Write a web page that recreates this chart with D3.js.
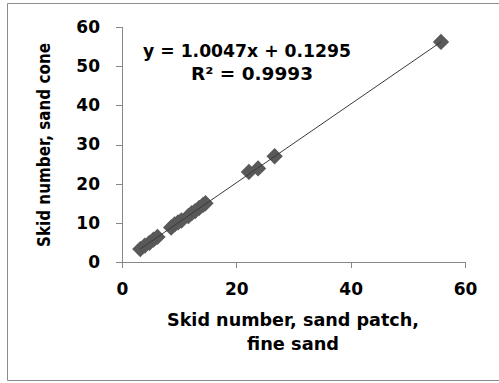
<!DOCTYPE html>
<html>
<head>
<meta charset="utf-8">
<script src="https://cdn.jsdelivr.net/npm/d3@7"></script>
<style>
  body { margin: 0; background: #fff; }
  text { font-family: "DejaVu Sans", Verdana, sans-serif; font-weight: bold; fill: #000; }
</style>
</head>
<body>
<svg id="chart"></svg>
<script>
/* data */
var sandPatch = [3.2, 4.0, 4.8, 5.5, 6.2, 8.6, 9.2, 9.8, 10.4, 11.6, 12.2, 12.8, 13.5, 14.2, 14.6, 22.2, 23.8, 26.7, 55.8];
var sandCone  = [3.3, 4.2, 4.9, 5.7, 6.4, 8.8, 9.6, 10.1, 10.6, 11.7, 12.5, 13.0, 13.8, 14.6, 15.0, 23.0, 23.9, 27.0, 56.2];
var xTicks = [0, 20, 40, 60];
var yTicks = [0, 10, 20, 30, 40, 50, 60];
var slope = 1.0047, intercept = 0.1295;
var eqLabel = "y = 1.0047x + 0.1295";
var r2Label = "R\u00b2 = 0.9993";
var xLegend = ["Skid number, sand patch,", "fine sand"];
var yLegend = "Skid number, sand cone";

var width = 499, height = 383,
    margin = { top: 27, left: 122 };

var svg = d3.select("#chart")
    .attr("width", width)
    .attr("height", height);

// outer chart border (right edge falls outside the picture)
svg.append("path")
    .attr("d", "M" + width + ",3.5H7.5V380.5H" + width)
    .attr("fill", "none")
    .attr("stroke", "#8c8c8c");

var g = svg.append("g")
    .attr("transform", "translate(" + margin.left + "," + margin.top + ")");

var xScale = d3.scaleLinear().domain([0, 60]).range([0, 343]);
var yScale = d3.scaleLinear().domain([0, 60]).range([235, 0]);

/* axes */
var xAxis = d3.axisBottom(xScale).tickValues(xTicks).tickSize(6).tickPadding(15);
var yAxis = d3.axisLeft(yScale).tickValues(yTicks).tickSize(6).tickPadding(16);

var xAxisG = g.append("g")
    .attr("transform", "translate(0,235)")
    .call(xAxis);
var yAxisG = g.append("g").call(yAxis);

[xAxisG, yAxisG].forEach(function(a) {
  a.selectAll("path, line").attr("stroke", "#868686").attr("shape-rendering", "crispEdges");
  a.selectAll("text").style("font-size", "17px").attr("fill", "#000");
});

/* points */
var data = sandPatch.map(function(d, i) { return { x: d, y: sandCone[i] }; });
var diamond = d3.symbol().type(d3.symbolDiamond2).size(170);

g.selectAll(".pt")
  .data(data)
  .enter().append("path")
    .attr("class", "pt")
    .attr("d", diamond)
    .attr("transform", function(d) { return "translate(" + xScale(d.x) + "," + yScale(d.y) + ")"; })
    .attr("fill", "#595959");

/* trendline over the data range */
var xMin = d3.min(sandPatch), xMax = d3.max(sandPatch);
g.append("line")
    .attr("x1", xScale(xMin)).attr("y1", yScale(slope * xMin + intercept))
    .attr("x2", xScale(xMax)).attr("y2", yScale(slope * xMax + intercept))
    .attr("stroke", "#3a3a3a")
    .attr("stroke-width", 1);

/* equation */
g.append("text")
    .attr("x", 125).attr("y", 30)
    .attr("text-anchor", "middle")
    .attr("textLength", 208).attr("lengthAdjust", "spacingAndGlyphs")
    .style("font-size", "17px")
    .text(eqLabel);
g.append("text")
    .attr("x", 130).attr("y", 53)
    .attr("text-anchor", "middle")
    .attr("textLength", 122).attr("lengthAdjust", "spacingAndGlyphs")
    .style("font-size", "17px")
    .text(r2Label);

/* legends */
svg.append("text")
    .attr("x", 293).attr("y", 326)
    .attr("text-anchor", "middle")
    .attr("textLength", 252).attr("lengthAdjust", "spacingAndGlyphs")
    .style("font-size", "17px")
    .text(xLegend[0]);
svg.append("text")
    .attr("x", 293).attr("y", 350)
    .attr("text-anchor", "middle")
    .attr("textLength", 92).attr("lengthAdjust", "spacingAndGlyphs")
    .style("font-size", "17px")
    .text(xLegend[1]);

svg.append("text")
    .attr("transform", "translate(50,145) rotate(-90)")
    .attr("text-anchor", "middle")
    .attr("textLength", 204).attr("lengthAdjust", "spacingAndGlyphs")
    .style("font-size", "17px")
    .text(yLegend);
</script>
</body>
</html>
